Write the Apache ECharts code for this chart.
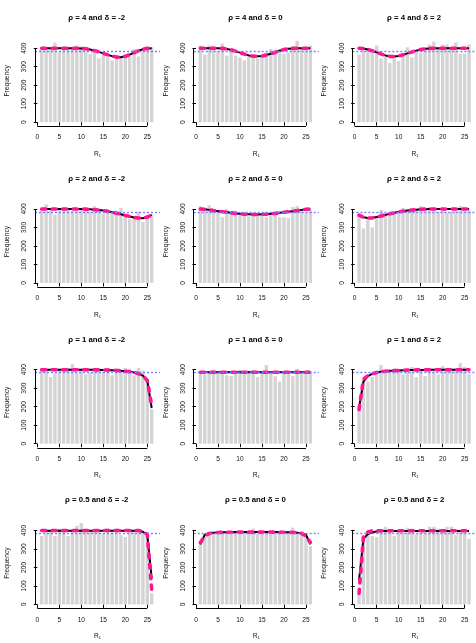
<!DOCTYPE html>
<html>
<head>
<meta charset="utf-8">
<title>Frequency of R1 by rho and delta</title>
<script src="https://cdn.jsdelivr.net/npm/echarts@6.0.0/dist/echarts.min.js"></script>
<style>
  html, body { margin: 0; padding: 0; background: #fff; }
  #chart { width: 476px; height: 643px; }
</style>
</head>
<body>
<div id="chart"></div>
<script>
// panel levels (rows = rho, columns = delta)
const rhoLevels = ['4', '2', '1', '0.5'];
const deltaLevels = ['-2', '0', '2'];

const binCenters = [1, 2, 3, 4, 5, 6, 7, 8, 9, 10, 11, 12, 13, 14, 15, 16, 17, 18, 19, 20, 21, 22, 23, 24, 25, 26];
const xTicks = [0, 5, 10, 15, 20, 25];
const yTicks = [0, 100, 200, 300, 400];
const meanFreq = 384.6;

// rho = 4
const bars_r4_dm2 = [395, 405, 395, 430, 380, 400, 395, 400, 415, 410, 380, 370, 385, 345, 365, 350, 335, 350, 350, 360, 370, 395, 355, 385, 395, 405];
const fit_r4_dm2 = [400, 400, 400, 400, 400, 400, 400, 400, 400, 399, 397, 393, 387, 380, 372, 364, 357, 352, 351, 356, 365, 376, 386, 394, 399, 400];
const bars_r4_d0 = [415, 365, 415, 410, 385, 425, 360, 400, 360, 350, 335, 355, 360, 345, 360, 375, 395, 385, 395, 370, 375, 410, 440, 400, 400, 415];
const fit_r4_d0 = [400, 400, 400, 400, 400, 399, 396, 391, 384, 376, 368, 361, 357, 356, 358, 363, 370, 378, 386, 393, 397, 399, 400, 400, 400, 400];
const bars_r4_d2 = [365, 395, 400, 390, 415, 345, 355, 320, 345, 330, 360, 405, 350, 380, 375, 400, 420, 435, 400, 420, 420, 395, 430, 370, 370, 420];
const fit_r4_d2 = [400, 398, 393, 386, 378, 369, 361, 356, 355, 358, 364, 372, 380, 387, 393, 397, 399, 400, 400, 400, 400, 400, 400, 400, 400, 400];

// rho = 2
const bars_r2_dm2 = [395, 425, 400, 370, 400, 395, 400, 390, 395, 395, 395, 385, 415, 395, 375, 380, 385, 390, 405, 355, 345, 360, 385, 330, 365, 370];
const fit_r2_dm2 = [400, 400, 400, 400, 400, 400, 400, 400, 400, 400, 399, 398, 396, 394, 391, 387, 382, 377, 371, 365, 359, 354, 351, 350, 356, 368];
const bars_r2_d0 = [415, 405, 420, 400, 395, 355, 400, 380, 390, 375, 370, 360, 365, 370, 375, 355, 370, 385, 355, 355, 350, 410, 415, 400, 380, 395];
const fit_r2_d0 = [400, 398, 395, 391, 388, 385, 382, 379, 376, 374, 372, 371, 370, 370, 371, 372, 374, 376, 379, 382, 385, 388, 391, 395, 398, 400];
const bars_r2_d2 = [365, 295, 345, 300, 360, 395, 375, 370, 375, 375, 405, 400, 395, 400, 415, 400, 410, 405, 385, 395, 380, 385, 395, 415, 405, 395];
const fit_r2_d2 = [366, 355, 351, 352, 356, 362, 368, 374, 379, 384, 388, 391, 394, 396, 398, 399, 400, 400, 400, 400, 400, 400, 400, 400, 400, 400];

// rho = 1
const bars_r1_dm2 = [410, 395, 360, 380, 395, 400, 410, 430, 385, 400, 375, 385, 400, 410, 390, 410, 370, 390, 390, 410, 405, 370, 410, 395, 340, 185];
const fit_r1_dm2 = [400, 400, 400, 400, 400, 400, 400, 400, 400, 400, 400, 400, 400, 399, 399, 398, 397, 396, 394, 392, 389, 385, 379, 368, 340, 193];
const theo_r1_dm2 = [400, 400, 400, 400, 400, 400, 400, 400, 400, 400, 400, 400, 400, 399, 399, 398, 397, 396, 394, 392, 389, 385, 379, 368, 342, 205];
const bars_r1_d0 = [390, 375, 385, 400, 395, 390, 370, 365, 390, 400, 385, 395, 400, 360, 385, 425, 390, 365, 335, 390, 385, 365, 405, 395, 385, 385];
const fit_r1_d0 = [386, 386, 386, 386, 386, 386, 386, 386, 386, 386, 386, 386, 386, 386, 386, 386, 386, 386, 386, 386, 386, 386, 386, 386, 386, 386];
const bars_r1_d2 = [205, 350, 335, 360, 380, 425, 390, 395, 405, 395, 375, 395, 415, 360, 395, 365, 400, 390, 375, 420, 410, 405, 400, 435, 415, 375];
const fit_r1_d2 = [195, 335, 365, 378, 385, 389, 392, 394, 395, 396, 397, 398, 398, 399, 399, 399, 400, 400, 400, 400, 400, 400, 400, 400, 400, 400];
const theo_r1_d2 = [185, 348, 368, 378, 385, 389, 392, 394, 395, 396, 397, 398, 398, 399, 399, 399, 400, 400, 400, 400, 400, 400, 400, 400, 400, 400];

// rho = 0.5
const bars_r05_dm2 = [370, 400, 400, 370, 410, 405, 370, 400, 425, 440, 400, 395, 395, 390, 385, 410, 390, 410, 375, 365, 395, 395, 405, 395, 390, 60];
const fit_r05_dm2 = [398, 398, 398, 398, 398, 398, 398, 398, 398, 398, 398, 398, 398, 398, 398, 398, 398, 398, 398, 398, 398, 398, 397, 393, 375, 140];
const theo_r05_dm2 = [400, 400, 400, 400, 400, 400, 400, 400, 400, 400, 400, 400, 400, 400, 400, 400, 400, 400, 400, 400, 400, 400, 400, 395, 378, 80];
const bars_r05_d0 = [335, 370, 385, 385, 385, 395, 385, 390, 395, 385, 385, 385, 410, 380, 390, 395, 385, 385, 385, 380, 395, 415, 390, 375, 370, 315];
const fit_r05_d0 = [325, 377, 385, 388, 389, 390, 390, 390, 391, 391, 391, 391, 391, 391, 391, 391, 391, 391, 390, 390, 390, 389, 388, 385, 377, 325];
const theo_r05_d0 = [335, 370, 384, 388, 389, 390, 390, 390, 391, 391, 391, 391, 391, 391, 391, 391, 391, 391, 390, 390, 390, 389, 388, 384, 370, 335];
const bars_r05_d2 = [50, 365, 390, 370, 365, 395, 420, 395, 370, 400, 385, 415, 410, 380, 385, 390, 420, 420, 410, 395, 420, 420, 375, 395, 390, 355];
const fit_r05_d2 = [130, 355, 380, 390, 394, 397, 397, 397, 397, 397, 397, 397, 397, 397, 397, 397, 397, 397, 397, 397, 397, 397, 397, 397, 397, 397];
const theo_r05_d2 = [60, 365, 392, 398, 398, 398, 398, 398, 398, 398, 398, 398, 398, 398, 398, 398, 398, 398, 398, 398, 398, 398, 398, 398, 398, 398];

// row-major: [bars, black fitted curve, pink dashed curve]
const panels = [
  [bars_r4_dm2, fit_r4_dm2, fit_r4_dm2],
  [bars_r4_d0, fit_r4_d0, fit_r4_d0],
  [bars_r4_d2, fit_r4_d2, fit_r4_d2],
  [bars_r2_dm2, fit_r2_dm2, fit_r2_dm2],
  [bars_r2_d0, fit_r2_d0, fit_r2_d0],
  [bars_r2_d2, fit_r2_d2, fit_r2_d2],
  [bars_r1_dm2, fit_r1_dm2, theo_r1_dm2],
  [bars_r1_d0, fit_r1_d0, fit_r1_d0],
  [bars_r1_d2, fit_r1_d2, theo_r1_d2],
  [bars_r05_dm2, fit_r05_dm2, theo_r05_dm2],
  [bars_r05_d0, fit_r05_d0, theo_r05_d0],
  [bars_r05_d2, fit_r05_d2, theo_r05_d2]
];

// layout of one panel cell (px) and axis ranges
const CELL_W = 476 / 3, CELL_H = 643 / 4;
const X0 = 37.3, XS = 4.4;     // px of x = 0, px per unit
const Y0 = 122.2, YS = 0.185;  // px of y = 0, px per unit
const XMIN = -0.52, XMAX = 27.9, YMIN = -23, YMAX = 470;

const FONT = '"Liberation Sans", Arial, Helvetica, sans-serif';
const axisStroke = { color: '#000', width: 1 };
const pair = (ys) => binCenters.map((x, k) => [x, ys[k]]);

const grids = [], xAxes = [], yAxes = [], series = [], texts = [];

panels.forEach(([bars, fit, theo], i) => {
  const row = Math.floor(i / 3), col = i % 3;
  const ox = col * CELL_W, oy = row * CELL_H;

  grids.push({
    left: ox + X0 + XMIN * XS,
    top: oy + Y0 - YMAX * YS,
    width: (XMAX - XMIN) * XS,
    height: (YMAX - YMIN) * YS,
    outerBoundsMode: 'none'
  });

  xAxes.push({
    gridIndex: i, type: 'value', min: XMIN, max: XMAX,
    name: 'R₁', nameLocation: 'middle', nameGap: 24,
    nameTextStyle: { fontFamily: FONT, fontSize: 6.6, color: '#111' },
    axisLine: { show: false },
    splitLine: { show: false },
    axisTick: { show: true, customValues: xTicks, length: 3.5, lineStyle: axisStroke },
    axisLabel: { customValues: xTicks, margin: 7.5, fontFamily: FONT, fontSize: 6.6, color: '#111' }
  });

  yAxes.push({
    gridIndex: i, type: 'value', min: YMIN, max: YMAX,
    name: 'Frequency', nameLocation: 'middle', nameRotate: 90, nameGap: 24.5,
    nameTextStyle: { fontFamily: FONT, fontSize: 6.6, color: '#111' },
    axisLine: { show: false },
    splitLine: { show: false },
    axisTick: { show: true, customValues: yTicks, length: 3.5, lineStyle: axisStroke },
    axisLabel: { customValues: yTicks, rotate: 90, margin: 7, fontFamily: FONT, fontSize: 6.6, color: '#111' }
  });

  series.push({
    type: 'bar', xAxisIndex: i, yAxisIndex: i,
    data: pair(bars), barWidth: 3.4,
    itemStyle: { color: '#d4d4d4' },
    silent: true,
    markLine: {
      silent: true, symbol: ['none', 'none'], label: { show: false },
      data: [
        { yAxis: meanFreq, lineStyle: { color: '#7b7bff', width: 1.4, type: [2, 2] } },
        [{ coord: [xTicks[0], YMIN], lineStyle: { color: '#000', width: 1, type: 'solid' } },
         { coord: [xTicks[xTicks.length - 1], YMIN] }],
        [{ coord: [XMIN, yTicks[0]], lineStyle: { color: '#000', width: 1, type: 'solid' } },
         { coord: [XMIN, yTicks[yTicks.length - 1]] }]
      ]
    }
  });

  series.push({
    type: 'line', xAxisIndex: i, yAxisIndex: i,
    data: pair(fit), symbol: 'none', silent: true,
    lineStyle: { color: '#000', width: 2 }
  });

  series.push({
    type: 'line', xAxisIndex: i, yAxisIndex: i,
    data: pair(theo), symbol: 'none', silent: true,
    lineStyle: { color: '#ff1493', width: 3.6, type: [4, 6.5], cap: 'round' }
  });

  texts.push({
    type: 'text', x: ox + 96.7, y: oy + 18, silent: true,
    style: {
      text: 'ρ = ' + rhoLevels[row] + ' and δ = ' + deltaLevels[col],
      fontFamily: FONT, fontSize: 7.8, fontWeight: 'bold', fill: '#000',
      align: 'center', verticalAlign: 'middle'
    }
  });
});

const chart = echarts.init(document.getElementById('chart'));
chart.setOption({
  animation: false,
  backgroundColor: '#fff',
  grid: grids,
  xAxis: xAxes,
  yAxis: yAxes,
  series: series,
  graphic: texts
});
</script>
</body>
</html>
